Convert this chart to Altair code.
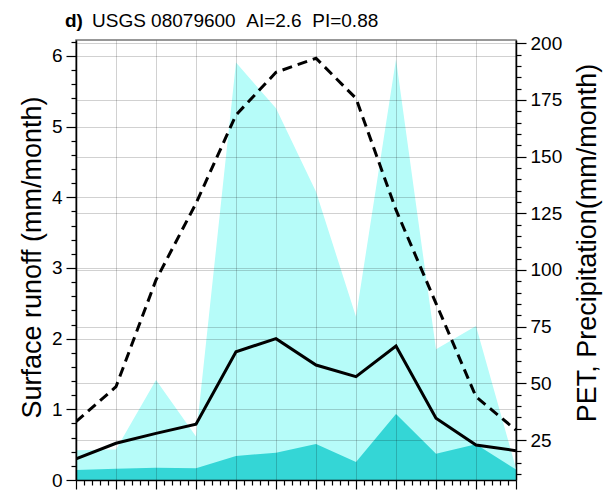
import altair as alt
import pandas as pd

# Monthly climatology for the station
months = list(range(1, 13))
pet = [33.1, 48.5, 95.6, 129.4, 168.4, 187.2, 193.4, 175.7, 126.5, 85.3, 44.1, 29.4]
precip = [20.5, 20.8, 51.5, 26.5, 191.5, 171.3, 134.5, 79.4, 193.0, 65.0, 75.3, 12.5]
runoff_line = [0.30, 0.52, 0.66, 0.79, 1.815, 2.0, 1.627, 1.462, 1.896, 0.873, 0.495, 0.415]
runoff_fill = [0.14, 0.16, 0.175, 0.165, 0.34, 0.387, 0.51, 0.255, 0.934, 0.373, 0.505, 0.15]

left_domain = [0, 6.226]
right_domain = [7.36, 201.46]

FONT = "Liberation Sans"
NBSP = "\u00a0"

df = pd.DataFrame({
    "month": months,
    "pet": pet,
    "precip": precip,
    "runoff_line": runoff_line,
    "runoff_fill": runoff_fill,
})

is_int = "abs(datum.value - round(datum.value)) < 0.001"
is_25 = "datum.value % 25 === 0"
GRID_OPACITY = 0.18

x_axis = alt.Axis(
    values=[round(1 + 0.2 * i, 1) for i in range(56)],
    labels=False,
    title=None,
    tickSize={"condition": {"test": is_int, "value": 9}, "value": 5},
    tickColor="black",
    tickWidth=1.2,
    grid=True,
    gridColor="black",
    gridOpacity={"condition": {"test": is_int, "value": GRID_OPACITY}, "value": 0},
    domainColor="black",
    domainWidth=1.5,
    zindex=1,
)
x_enc = alt.X("month:Q", scale=alt.Scale(domain=[1, 12], nice=False, zero=False), axis=x_axis)

left_axis = alt.Axis(
    orient="left",
    values=[round(0.2 * i, 1) for i in range(32)],
    labelExpr=f"{is_int} ? format(datum.value, 'd') : ''",
    tickSize={"condition": {"test": is_int, "value": 10}, "value": 5},
    tickColor="black",
    tickWidth=1.2,
    grid=True,
    gridColor="black",
    gridOpacity={"condition": {"test": is_int, "value": GRID_OPACITY}, "value": 0},
    domainColor="black",
    domainWidth=1.5,
    labelFont=FONT,
    labelFontSize=19,
    labelColor="black",
    labelPadding=4,
    title="Surface runoff (mm/month)",
    titleFont=FONT,
    titleFontSize=27,
    titleFontWeight="normal",
    titleColor="black",
    titleAngle=270,
    titleAlign="center",
    titleBaseline="alphabetic",
    titleX=-35.3,
    titleY=217,
    zindex=1,
)

right_axis = alt.Axis(
    orient="right",
    values=list(range(10, 201, 5)),
    labelExpr=f"{is_25} ? format(datum.value, 'd') : ''",
    tickSize={"condition": {"test": is_25, "value": 10}, "value": 5},
    tickColor="black",
    tickWidth=1.2,
    grid=True,
    gridColor="black",
    gridOpacity={"condition": {"test": is_25, "value": GRID_OPACITY}, "value": 0},
    domainColor="black",
    domainWidth=1.5,
    labelFont=FONT,
    labelFontSize=19,
    labelColor="black",
    labelPadding=4,
    title="PET, Precipitation(mm/month)",
    titleFont=FONT,
    titleFontSize=27,
    titleFontWeight="normal",
    titleColor="black",
    titleAngle=270,
    titleAlign="center",
    titleBaseline="alphabetic",
    titleX=79.7,
    titleY=202.5,
    zindex=1,
)

left_scale = alt.Scale(domain=left_domain, nice=False, zero=False)
right_scale = alt.Scale(domain=right_domain, nice=False, zero=False)

base = alt.Chart(df)

precip_area = base.mark_area(color="#b6fcf9", clip=True).encode(
    x=x_enc,
    y=alt.Y("precip:Q", scale=right_scale, axis=right_axis),
    y2=alt.Y2(datum=0),
)

runoff_area = base.mark_area(color="#34d6d6", clip=True).encode(
    x=x_enc,
    y=alt.Y("runoff_fill:Q", scale=left_scale, axis=left_axis),
)

runoff_solid = base.mark_line(color="black", strokeWidth=3, clip=True).encode(
    x=x_enc,
    y=alt.Y("runoff_line:Q", scale=left_scale, axis=None),
)

pet_dashed = base.mark_line(color="black", strokeWidth=3, strokeDash=[10, 6], clip=True).encode(
    x=x_enc,
    y=alt.Y("pet:Q", scale=right_scale, axis=None),
)

label_df = pd.DataFrame({"a": [0]})
panel_tag = alt.Chart(label_df).mark_text(
    text="d)", font=FONT, fontSize=19, fontWeight="bold", align="left",
    baseline="alphabetic", color="black",
).encode(x=alt.value(-11), y=alt.value(-13.3))

panel_text = alt.Chart(label_df).mark_text(
    text=f"USGS 08079600{NBSP}{NBSP}AI=2.6{NBSP}{NBSP}PI=0.88", font=FONT, fontSize=19,
    align="left", baseline="alphabetic", color="black",
).encode(x=alt.value(16), y=alt.value(-13.3))

chart = alt.layer(
    precip_area, runoff_area, runoff_solid, pet_dashed, panel_tag, panel_text
).resolve_scale(y="independent").properties(
    width=440,
    height=440,
    padding={"left": 76, "top": 40, "right": 91, "bottom": 10},
    autosize=alt.AutoSizeParams(type="none"),
    background="white",
).configure_view(stroke="#777", strokeWidth=1.5)

chart.save("out.html", embed_options={"renderer": "svg", "actions": False})
